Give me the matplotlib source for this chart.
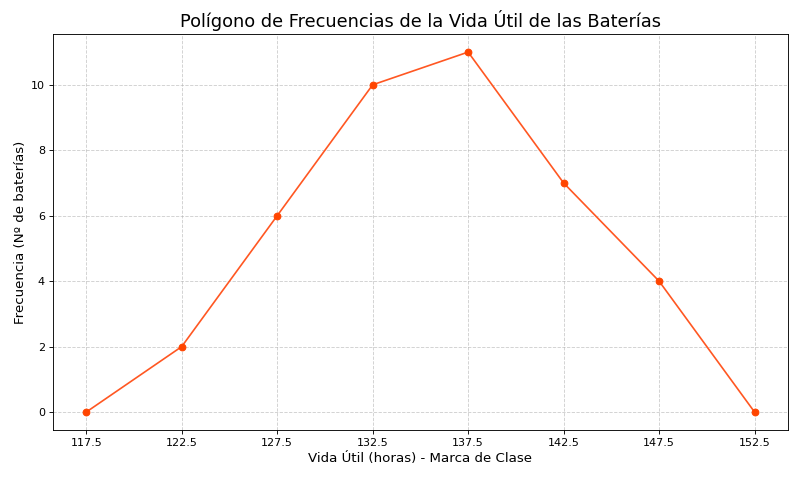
import matplotlib
matplotlib.use("Agg")
import matplotlib.pyplot as plt

marcas = [117.5, 122.5, 127.5, 132.5, 137.5, 142.5, 147.5, 152.5]
frecuencias = [0, 2, 6, 10, 11, 7, 4, 0]

fig, ax = plt.subplots(figsize=(10, 6), dpi=80)
ax.plot(marcas, frecuencias, marker="o", color="#FF5722", markerfacecolor="#FF4500",
        markeredgecolor="#FF4500", linewidth=1.5, markersize=6)
ax.set_title("Polígono de Frecuencias de la Vida Útil de las Baterías", fontsize=16)
ax.set_xlabel("Vida Útil (horas) - Marca de Clase", fontsize=12)
ax.set_ylabel("Frecuencia (Nº de baterías)", fontsize=12)
ax.set_xticks(marcas)
ax.set_xticklabels([str(m) for m in marcas])
ax.grid(True, linestyle="--", alpha=0.6)
fig.subplots_adjust(left=0.066, right=0.985, top=0.929, bottom=0.104)
fig.savefig("out.png", dpi=80)
